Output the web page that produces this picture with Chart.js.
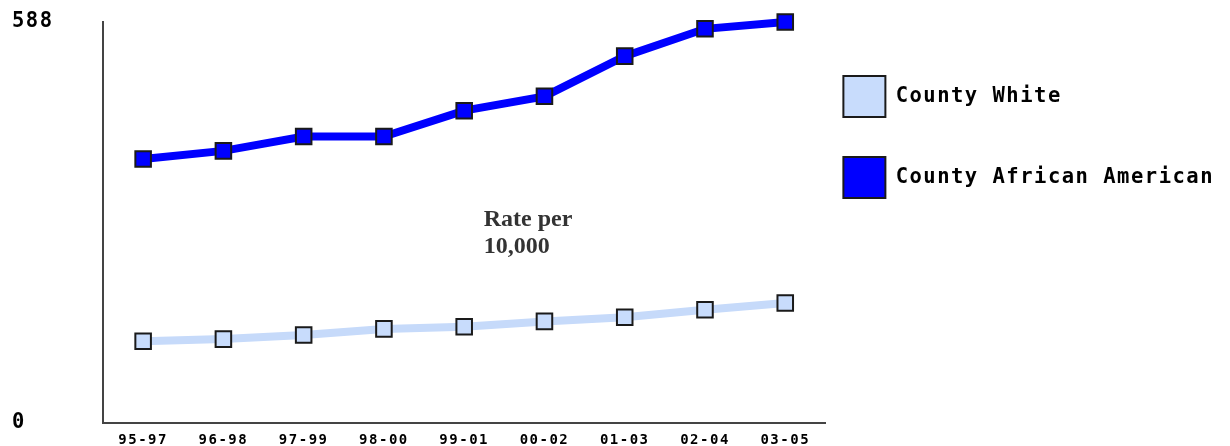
<!DOCTYPE html>
<html>
<head>
<meta charset="utf-8">
<script src="https://cdn.jsdelivr.net/npm/chart.js@4"></script>
<style>
  html, body { margin: 0; padding: 0; background: #fff; }
  canvas { display: block; }
</style>
</head>
<body>
<canvas id="rateChart" width="1230" height="446"></canvas>
<script>
const periods = ["95-97", "96-98", "97-99", "98-00", "99-01", "00-02", "01-03", "02-04", "03-05"];
const countyWhite = [120, 123, 129, 138, 141, 149, 155, 166, 176];
const countyAfricanAmerican = [387, 399, 420, 420, 458, 479, 538, 578, 588];
const yTicks = [0, 588];
const noteLines = ["Rate per", "10,000"];

const pixelFont = "'DejaVu Sans Mono', monospace";

// the old chart font is wide, so space the letters out a bit
const spacing = {
  id: "spacing",
  beforeUpdate(chart) { chart.ctx.letterSpacing = "1.5px"; },
  beforeDraw(chart) { chart.ctx.letterSpacing = "1.5px"; }
};

const rateNote = {
  id: "rateNote",
  afterDraw(chart) {
    const { ctx, chartArea } = chart;
    const x = chartArea.left + (chartArea.right - chartArea.left) * 0.527;
    const y = chartArea.top + (chartArea.bottom - chartArea.top) * 0.508;
    ctx.save();
    ctx.letterSpacing = "0px";
    ctx.font = "bold 24px 'Liberation Serif', serif";
    ctx.fillStyle = "#333";
    ctx.textAlign = "left";
    ctx.textBaseline = "alphabetic";
    noteLines.forEach((line, i) => ctx.fillText(line, x, y + i * 27));
    ctx.restore();
  }
};

const ctx = document.getElementById("rateChart").getContext("2d");

const rateChart = new Chart(ctx, {
  type: "line",
  data: {
    labels: periods,
    datasets: [
      {
        label: "County White",
        data: countyWhite,
        borderColor: "#c6dafa",
        backgroundColor: "#c6dafa",
        borderWidth: 8,
        tension: 0,
        pointStyle: "rect",
        pointRadius: 11,
        pointHoverRadius: 11,
        pointBorderWidth: 2,
        pointBorderColor: "#1a1a1a",
        pointBackgroundColor: "#c8dcfc",
        clip: false
      },
      {
        label: "County African American",
        data: countyAfricanAmerican,
        borderColor: "#0000ff",
        backgroundColor: "#0000ff",
        borderWidth: 8,
        tension: 0,
        pointStyle: "rect",
        pointRadius: 11,
        pointHoverRadius: 11,
        pointBorderWidth: 2,
        pointBorderColor: "#1a1a1a",
        pointBackgroundColor: "#0000ff",
        clip: false
      }
    ]
  },
  options: {
    responsive: false,
    animation: false,
    layout: { padding: { left: 12, top: 22, right: 6, bottom: 0 } },
    scales: {
      x: {
        offset: true,
        grid: { display: false, drawTicks: false },
        border: { display: true, color: "#444", width: 2 },
        ticks: {
          color: "#000",
          font: { family: pixelFont, size: 14, weight: "bold" },
          padding: 9,
          maxRotation: 0,
          autoSkip: false
        },
        afterFit(scale) { scale.height = 23; }
      },
      y: {
        min: 0,
        max: 588,
        grid: { display: false, drawTicks: false },
        border: { display: true, color: "#444", width: 2 },
        ticks: {
          color: "#000",
          crossAlign: "far",
          font: { family: pixelFont, size: 20.5, weight: "bold" }
        },
        afterBuildTicks(axis) { axis.ticks = yTicks.map(v => ({ value: v })); },
        afterFit(scale) { scale.width = 91; }
      }
    },
    plugins: {
      tooltip: { enabled: false },
      legend: {
        position: "right",
        align: "start",
        maxWidth: 500,
        title: {
          display: true,
          text: " ",
          font: { size: 12, lineHeight: "16px" },
          padding: { top: 10, bottom: 10 }
        },
        labels: {
          color: "#000",
          boxWidth: 42,
          boxHeight: 41,
          padding: 18,
          font: { family: pixelFont, size: 20.5, weight: "bold", lineHeight: "63px" },
          generateLabels(chart) {
            return chart.data.datasets.map((ds, i) => ({
              text: [ds.label],
              fillStyle: ds.pointBackgroundColor,
              strokeStyle: "#1a1a1a",
              lineWidth: 2,
              fontColor: "#000",
              hidden: false,
              datasetIndex: i
            }));
          }
        }
      }
    }
  },
  plugins: [spacing, rateNote]
});
</script>
</body>
</html>
